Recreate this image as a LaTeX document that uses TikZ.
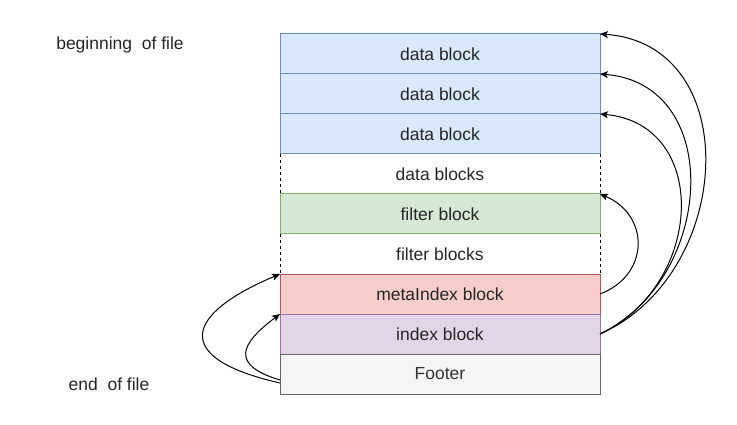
\documentclass[tikz,border=0pt]{standalone}
\usepackage{fontspec}
\setmainfont{Liberation Sans}
\usetikzlibrary{positioning,arrows.meta}
\definecolor{blueF}{HTML}{DAE8FC}\definecolor{blueD}{HTML}{6C8EBF}
\definecolor{greenF}{HTML}{D5E8D4}\definecolor{greenD}{HTML}{82B366}
\definecolor{redF}{HTML}{F8CECC}\definecolor{redD}{HTML}{B85450}
\definecolor{violetF}{HTML}{E1D5E7}\definecolor{violetD}{HTML}{9673A6}
\definecolor{greyF}{HTML}{F5F5F5}\definecolor{greyD}{HTML}{666666}
\definecolor{greyT}{HTML}{333333}
\tikzset{
    block/.style={
        minimum width=320pt, minimum height=40pt,
        inner sep=0pt, outer sep=0pt, line width=1pt,
        font=\fontsize{17.5}{20}\selectfont, text=black!85
    },
    gap/.style={dash pattern=on 3pt off 3pt, line width=1pt},
    link/.style={-{Stealth[length=8pt,width=7pt,inset=2pt]}, line width=1pt}
}
\begin{document}
\begin{tikzpicture}[x=1pt,y=-1pt]
\useasboundingbox (0,0) rectangle (737,425);
\node(D1) [block,draw=blueD,fill=blueF] at (440,54) {data block};
\node(D2) [block,draw=blueD,fill=blueF,below=0pt of D1] {data block};
\node(D3) [block,draw=blueD,fill=blueF,below=0pt of D2] {data block};
\node(DB) [block,below=0pt of D3] {data blocks};
\node(F)  [block,draw=greenD,fill=greenF,below=0pt of DB] {filter block};
\node(FB) [block,below=0pt of F] {filter blocks};
\node(M)  [block,draw=redD,fill=redF,below=0pt of FB] {metaIndex block};
\node(I)  [block,draw=violetD,fill=violetF,below=0pt of M] {index block};
\node(Ft) [block,draw=greyD,fill=greyF,text=greyT,below=0pt of I] {Footer};
% dashed sides of the gaps
\draw[gap] (DB.north west) -- (DB.south west);
\draw[gap] (DB.north east) -- (DB.south east);
\draw[gap] (FB.north west) -- (FB.south west);
\draw[gap] (FB.north east) -- (FB.south east);
\node(B) [block,minimum width=0pt] at (120,45) {beginning\ \ of file};
\node(E) [block,minimum width=0pt] at (109,384) {end\ \ of file};
% index block -> data blocks
\draw[link] (I.east) .. controls +(135,-60) and +(145,10) .. (D1.north east);
\draw[link] (I.east) .. controls +(115,-55) and +(125,10) .. (D2.north east);
\draw[link] (I.east) .. controls +(105,-50) and +(110,10) .. (D3.north east);
% metaIndex -> filter
\draw[link] (M.east) .. controls +(50,-19) and +(50,21) .. (F.north east);
% footer -> metaIndex, index
\draw[link] ([yshift=-9pt]Ft.west) .. controls +(-110,-25) and +(-95,40) .. (M.north west);
\draw[link] ([yshift=-6pt]Ft.west) .. controls +(-50,-15) and +(-40,30) .. (I.north west);
\end{tikzpicture}
\end{document}
